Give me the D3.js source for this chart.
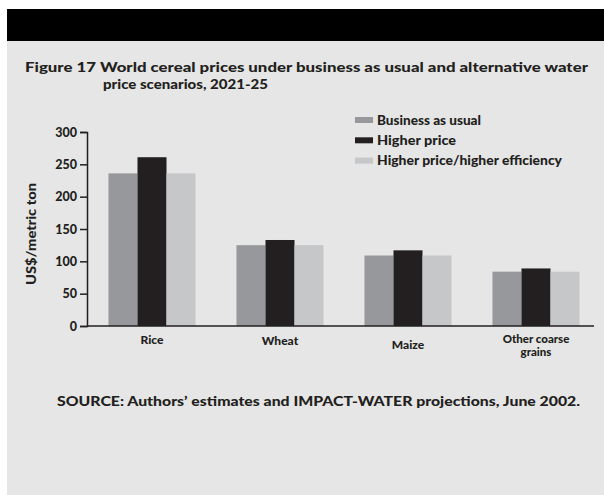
<!DOCTYPE html>
<html>
<head>
<meta charset="utf-8">
<script src="https://cdn.jsdelivr.net/npm/d3@7"></script>
<style>
  body { margin: 0; background: #fff; }
  svg { display: block; font-family: Lato, sans-serif; font-weight: 900; }
</style>
</head>
<body>
<div id="chart"></div>
<script>
// data (US$/metric ton)
const categories = ["Rice", "Wheat", "Maize", "Other coarse grains"];
const seriesNames = ["Business as usual", "Higher price", "Higher price/higher efficiency"];
const businessAsUsual = [236, 125, 109, 84];
const higherPrice = [261, 133, 117, 89];
const higherEfficiency = [236, 125, 109, 84];
const yTicks = [0, 50, 100, 150, 200, 250, 300];

const colors = ["#97989b", "#231f20", "#c6c7c9"];
const ink = "#231f20";
const font = "Lato, sans-serif";

const W = 604, H = 495;
var margin = {top: 132, right: 10, bottom: 169, left: 88};

var svg = d3.select("#chart").append("svg")
    .attr("width", W)
    .attr("height", H);

// panel + black header band
svg.append("rect").attr("x", 7).attr("y", 9).attr("width", W - 7).attr("height", H - 9).attr("fill", "#e6e6e6");
svg.append("rect").attr("x", 7).attr("y", 9).attr("width", W - 7).attr("height", 32).attr("fill", "#000");

// title
svg.append("text").attr("x", 25).attr("y", 72)
    .attr("font-size", 14).attr("fill", ink)
    .attr("textLength", 563).attr("lengthAdjust", "spacingAndGlyphs")
    .text("Figure 17 World cereal prices under business as usual and alternative water");
svg.append("text").attr("x", 103).attr("y", 89)
    .attr("font-size", 14).attr("fill", ink)
    .attr("textLength", 165).attr("lengthAdjust", "spacingAndGlyphs")
    .text("price scenarios, 2021-25");

var table = categories.map((c, i) => ({
    category: c,
    values: [businessAsUsual[i], higherPrice[i], higherEfficiency[i]]
}));

var x = d3.scaleBand()
    .domain(categories)
    .range([margin.left, 600])
    .paddingInner(0.32)
    .paddingOuter(0.16);

var xSub = d3.scaleBand()
    .domain(d3.range(seriesNames.length))
    .range([0, x.bandwidth()]);

var y = d3.scaleLinear()
    .domain([0, 300])
    .range([H - margin.bottom, margin.top]);

// bars
var groups = svg.selectAll("g.group")
    .data(table)
    .enter().append("g")
    .attr("class", "group")
    .attr("transform", d => "translate(" + x(d.category) + ",0)");

groups.selectAll("rect")
    .data(d => d.values)
    .enter().append("rect")
    .attr("x", (d, i) => xSub(i))
    .attr("y", d => y(d))
    .attr("width", xSub.bandwidth())
    .attr("height", d => y(0) - y(d))
    .attr("fill", (d, i) => colors[i]);

// y axis
var yAxis = svg.append("g")
    .attr("transform", "translate(" + (margin.left - 1) + ",0)")
    .call(d3.axisLeft(y).tickValues(yTicks).tickSize(7).tickPadding(3));
yAxis.select(".domain").attr("stroke", ink).attr("stroke-width", 1.5);
yAxis.selectAll(".tick line").attr("stroke", ink).attr("stroke-width", 1.5);
yAxis.selectAll(".tick text")
    .attr("fill", ink).attr("font-size", 12.5)
    .attr("font-family", font).attr("font-weight", 900);

// x axis baseline
svg.append("line")
    .attr("x1", margin.left - 1).attr("x2", 594)
    .attr("y1", y(0)).attr("y2", y(0))
    .attr("stroke", ink).attr("stroke-width", 1.5);

// category labels
var labelLines = {"Other coarse grains": ["Other coarse", "grains"]};
var labelY = {"Rice": 344, "Wheat": 345, "Maize": 349, "Other coarse grains": 343};
categories.forEach(c => {
    var lines = labelLines[c] || [c];
    var t = svg.append("text")
        .attr("x", x(c) + x.bandwidth() / 2)
        .attr("y", labelY[c])
        .attr("text-anchor", "middle")
        .attr("font-size", lines.length > 1 ? 11.5 : 12)
        .attr("fill", ink);
    lines.forEach((l, i) => {
        t.append("tspan")
            .attr("x", x(c) + x.bandwidth() / 2)
            .attr("dy", i ? 12.5 : 0)
            .text(l);
    });
});

// y label
svg.append("text")
    .attr("transform", "translate(36,234) rotate(-90)")
    .attr("text-anchor", "middle")
    .attr("font-size", 12.5)
    .attr("fill", ink)
    .attr("textLength", 102).attr("lengthAdjust", "spacingAndGlyphs")
    .text("US$/metric ton");

// legend
var legendWidths = [104, 79, 185];
var legend = svg.selectAll("g.legend")
    .data(seriesNames)
    .enter().append("g")
    .attr("class", "legend")
    .attr("transform", (d, i) => "translate(355," + (120 + i * 20.3) + ")");
legend.append("rect")
    .attr("x", 0).attr("y", -3)
    .attr("width", 18).attr("height", 6)
    .attr("fill", (d, i) => colors[i]);
legend.append("text")
    .attr("x", 22).attr("y", 4.5)
    .attr("font-size", 12.5)
    .attr("fill", ink)
    .attr("textLength", (d, i) => legendWidths[i]).attr("lengthAdjust", "spacingAndGlyphs")
    .text(d => d);

// source note
svg.append("text").attr("x", 57).attr("y", 406)
    .attr("font-size", 13).attr("fill", ink)
    .attr("textLength", 523).attr("lengthAdjust", "spacingAndGlyphs")
    .text("SOURCE: Authors\u2019 estimates and IMPACT-WATER projections, June 2002.");
</script>
</body>
</html>
